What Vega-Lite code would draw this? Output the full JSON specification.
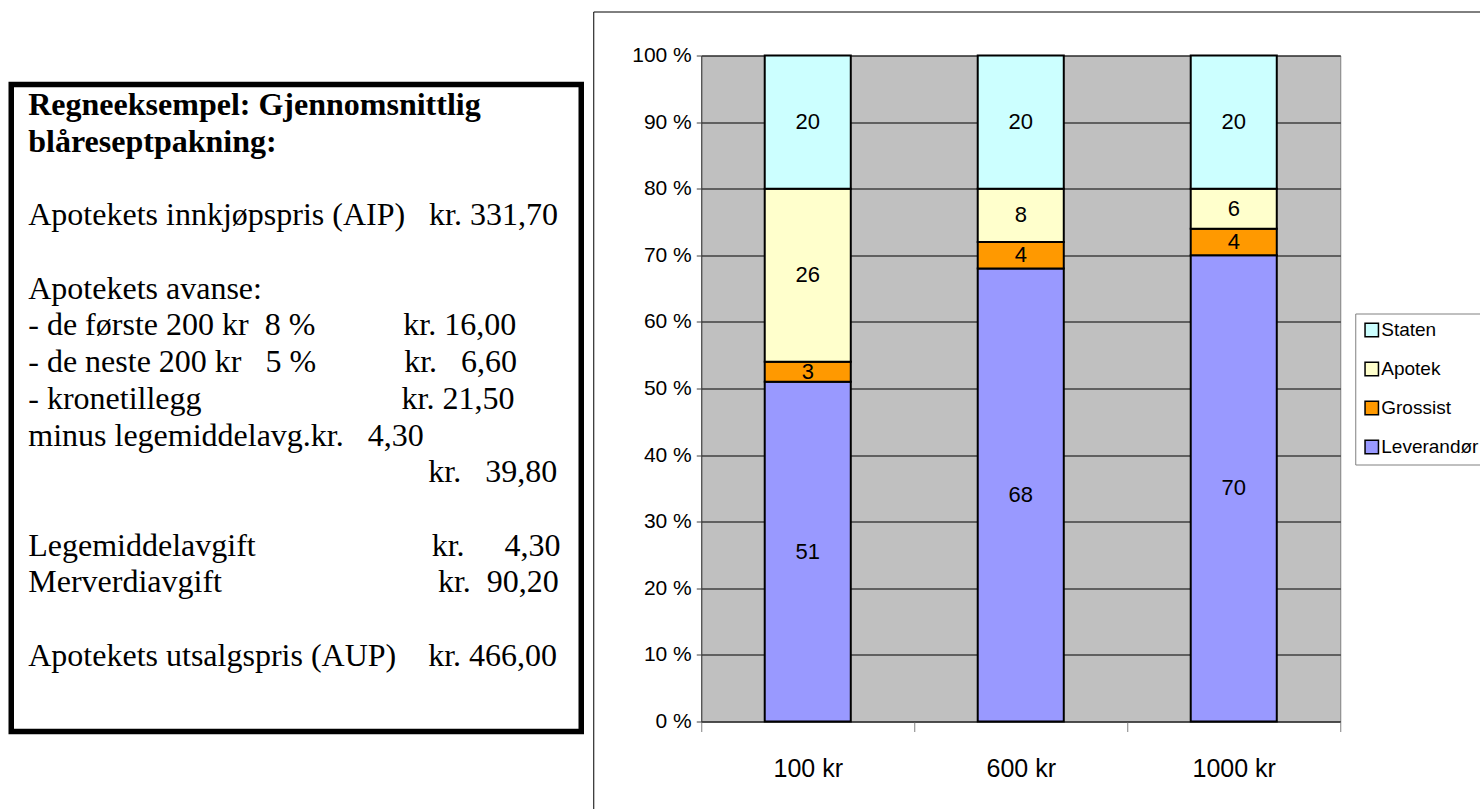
{
  "$schema": "https://vega.github.io/schema/vega-lite/v6.json",
  "background": "white",
  "padding": {"left": 8.25, "top": 10.5, "right": 0, "bottom": 0},
  "datasets": {
    "andeler": [
      {"pris": "100 kr", "ledd": "Leverandør", "trinn": 1, "andel": 51},
      {"pris": "100 kr", "ledd": "Grossist", "trinn": 2, "andel": 3},
      {"pris": "100 kr", "ledd": "Apotek", "trinn": 3, "andel": 26},
      {"pris": "100 kr", "ledd": "Staten", "trinn": 4, "andel": 20},
      {"pris": "600 kr", "ledd": "Leverandør", "trinn": 1, "andel": 68},
      {"pris": "600 kr", "ledd": "Grossist", "trinn": 2, "andel": 4},
      {"pris": "600 kr", "ledd": "Apotek", "trinn": 3, "andel": 8},
      {"pris": "600 kr", "ledd": "Staten", "trinn": 4, "andel": 20},
      {"pris": "1000 kr", "ledd": "Leverandør", "trinn": 1, "andel": 70},
      {"pris": "1000 kr", "ledd": "Grossist", "trinn": 2, "andel": 4},
      {"pris": "1000 kr", "ledd": "Apotek", "trinn": 3, "andel": 6},
      {"pris": "1000 kr", "ledd": "Staten", "trinn": 4, "andel": 20}
    ],
    "regnestykke": [
      {"linje": 0, "del": "overskrift", "tekst": "Regneeksempel: Gjennomsnittlig"},
      {"linje": 1, "del": "overskrift", "tekst": "blåreseptpakning:"},
      {"linje": 3, "del": "tekst", "tekst": "Apotekets innkjøpspris (AIP)\u00a0\u00a0\u00a0kr. 331,70"},
      {"linje": 5, "del": "tekst", "tekst": "Apotekets avanse:"},
      {"linje": 6, "del": "tekst", "tekst": "- de første 200 kr\u00a0\u00a08 %\u00a0\u00a0\u00a0\u00a0\u00a0\u00a0\u00a0\u00a0\u00a0\u00a0\u00a0kr. 16,00"},
      {"linje": 7, "del": "tekst", "tekst": "- de neste 200 kr\u00a0\u00a0\u00a05 %\u00a0\u00a0\u00a0\u00a0\u00a0\u00a0\u00a0\u00a0\u00a0\u00a0\u00a0kr.\u00a0\u00a0\u00a06,60"},
      {"linje": 8, "del": "tekst", "tekst": "- kronetillegg\u00a0\u00a0\u00a0\u00a0\u00a0\u00a0\u00a0\u00a0\u00a0\u00a0\u00a0\u00a0\u00a0\u00a0\u00a0\u00a0\u00a0\u00a0\u00a0\u00a0\u00a0\u00a0\u00a0\u00a0\u00a0kr. 21,50"},
      {"linje": 9, "del": "tekst", "tekst": "minus legemiddelavg.kr.\u00a0\u00a0\u00a04,30"},
      {"linje": 10, "del": "tekst", "tekst": "\u200b\u00a0\u00a0\u00a0\u00a0\u00a0\u00a0\u00a0\u00a0\u00a0\u00a0\u00a0\u00a0\u00a0\u00a0\u00a0\u00a0\u00a0\u00a0\u00a0\u00a0\u00a0\u00a0\u00a0\u00a0\u00a0\u00a0\u00a0\u00a0\u00a0\u00a0\u00a0\u00a0\u00a0\u00a0\u00a0\u00a0\u00a0\u00a0\u00a0\u00a0\u00a0\u00a0\u00a0\u00a0\u00a0\u00a0\u00a0\u00a0\u00a0\u00a0kr.\u00a0\u00a0\u00a039,80"},
      {"linje": 12, "del": "tekst", "tekst": "Legemiddelavgift\u00a0\u00a0\u00a0\u00a0\u00a0\u00a0\u00a0\u00a0\u00a0\u00a0\u00a0\u00a0\u00a0\u00a0\u00a0\u00a0\u00a0\u00a0\u00a0\u00a0\u00a0\u00a0kr.\u00a0\u00a0\u00a0\u00a0\u00a04,30"},
      {"linje": 13, "del": "tekst", "tekst": "Merverdiavgift\u00a0\u00a0\u00a0\u00a0\u00a0\u00a0\u00a0\u00a0\u00a0\u00a0\u00a0\u00a0\u00a0\u00a0\u00a0\u00a0\u00a0\u00a0\u00a0\u00a0\u00a0\u00a0\u00a0\u00a0\u00a0\u00a0\u00a0kr.\u00a0\u00a090,20"},
      {"linje": 15, "del": "tekst", "tekst": "Apotekets utsalgspris (AUP)\u00a0\u00a0\u00a0\u00a0kr. 466,00"}
    ]
  },
  "spacing": 8,
  "hconcat": [
    {
      "bounds": "flush",
      "spacing": 20,
      "vconcat": [
        {
          "width": 570,
          "height": 9,
          "data": {"values": []},
          "mark": "text",
          "encoding": {},
          "view": {"stroke": null}
        },
        {
          "width": 570,
          "height": 647,
          "view": {"stroke": "black", "strokeWidth": 5.5, "fill": "white"},
          "data": {"name": "regnestykke"},
          "encoding": {
            "x": {"datum": 0, "type": "quantitative", "scale": {"domain": [0, 1]}, "axis": null},
            "y": {"field": "linje", "type": "quantitative", "scale": {"domain": [-0.839, 16.79], "reverse": true, "nice": false, "zero": false}, "axis": null},
            "text": {"field": "tekst"}
          },
          "layer": [
            {
              "transform": [{"filter": {"field": "del", "equal": "overskrift"}}],
              "mark": {"type": "text", "align": "left", "baseline": "alphabetic", "dx": 17, "font": "Liberation Serif", "fontSize": 32, "fontWeight": "bold", "color": "black"}
            },
            {
              "transform": [{"filter": {"field": "del", "equal": "tekst"}}],
              "mark": {"type": "text", "align": "left", "baseline": "alphabetic", "dx": 17, "font": "Liberation Serif", "fontSize": 32, "color": "black"}
            }
          ]
        }
      ]
    },
    {
      "width": 639,
      "height": 666,
      "view": {"fill": "#c0c0c0", "stroke": "#808080", "strokeWidth": 1},
      "data": {"name": "andeler"},
      "resolve": {"scale": {"x": "independent", "y": "independent"}},
      "layer": [
        {
          "mark": {"type": "point", "opacity": 0, "size": 1},
          "encoding": {
            "x": {
              "datum": 0.5, "type": "quantitative",
              "scale": {"domain": [0, 1], "range": [-108, 779], "nice": false, "zero": false},
              "axis": {"orient": "top", "offset": 44, "domain": true, "domainColor": "black", "domainWidth": 1, "ticks": false, "labels": false, "grid": false, "title": null}
            },
            "y": {
              "datum": 0.5, "type": "quantitative",
              "scale": {"domain": [0, 1], "range": [753, -44], "nice": false, "zero": false},
              "axis": {"orient": "left", "offset": 108, "domain": true, "domainColor": "black", "domainWidth": 1, "ticks": false, "labels": false, "grid": false, "title": null}
            }
          }
        },
        {
          "encoding": {
            "x": {
              "field": "pris", "type": "nominal",
              "sort": ["100 kr", "600 kr", "1000 kr"],
              "scale": {"paddingInner": 0, "paddingOuter": 0},
              "axis": {
                "orient": "bottom", "title": null, "labelAngle": 0, "grid": false,
                "tickBand": "extent", "tickSize": 10, "tickColor": "#808080",
                "domainColor": "#404040",
                "labelFont": "Liberation Sans", "labelFontSize": 25, "labelColor": "black", "labelPadding": 25
              }
            },
            "y": {
              "field": "andel", "type": "quantitative", "stack": "zero",
              "scale": {"domain": [0, 100], "nice": false},
              "axis": {
                "orient": "left", "title": null,
                "values": [0, 10, 20, 30, 40, 50, 60, 70, 80, 90, 100],
                "labelExpr": "datum.value + ' %'",
                "grid": true, "gridColor": "black", "gridWidth": 1,
                "domainColor": "#404040", "tickColor": "#404040", "tickSize": 5,
                "labelFont": "Liberation Sans", "labelFontSize": 21, "labelColor": "black", "labelPadding": 5
              }
            },
            "order": {"field": "trinn", "type": "quantitative"}
          },
          "layer": [
            {
              "mark": {"type": "bar", "width": {"band": 0.404}, "stroke": "black", "strokeWidth": 2},
              "encoding": {
                "color": {
                  "field": "ledd", "type": "nominal",
                  "scale": {"domain": ["Staten", "Apotek", "Grossist", "Leverandør"], "range": ["#ccffff", "#ffffcc", "#ff9900", "#9999ff"]},
                  "legend": {
                    "title": null, "orient": "none", "legendX": 1344, "legendY": 258,
                    "strokeColor": "#808080", "fillColor": "white", "padding": 7,
                    "symbolType": "square", "symbolSize": 180, "symbolStrokeColor": "black", "symbolStrokeWidth": 1.5,
                    "labelFont": "Liberation Sans", "labelFontSize": 19, "labelColor": "black",
                    "rowPadding": 18, "labelOffset": 0
                  }
                }
              }
            },
            {
              "mark": {"type": "text", "baseline": "middle", "font": "Liberation Sans", "fontSize": 22, "color": "black"},
              "encoding": {
                "y": {"field": "andel", "type": "quantitative", "stack": "zero", "bandPosition": 0.5},
                "detail": {"field": "ledd"},
                "text": {"field": "andel", "type": "quantitative"}
              }
            }
          ]
        }
      ]
    }
  ]
}
